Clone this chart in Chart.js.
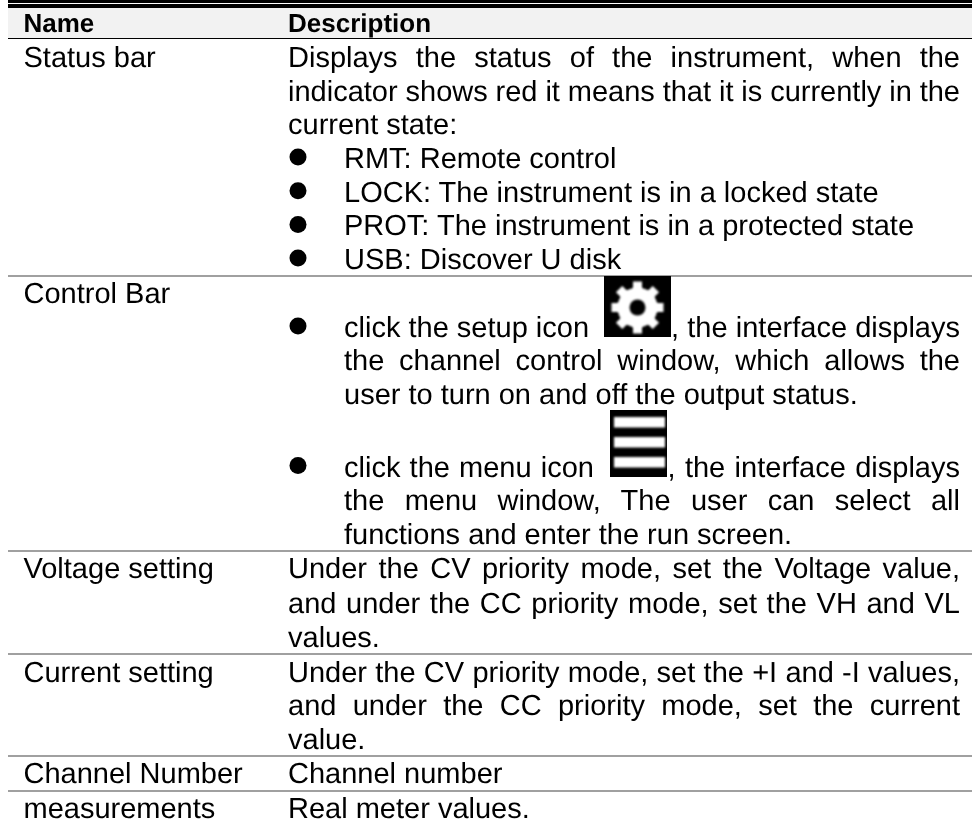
<!DOCTYPE html>
<html>
<head>
<meta charset="utf-8">
<title>Name / Description</title>
<script src="https://cdn.jsdelivr.net/npm/chart.js"></script>
<style>
    html, body { margin: 0; padding: 0; background: #fff; }
    #tableChart { display: block; }
</style>
</head>
<body>
<canvas id="tableChart" width="972" height="823"></canvas>
<script>
const headerLabels = ['Name', 'Description'];
const rowNames = ['Status bar', 'Control Bar', 'Voltage setting', 'Current setting', 'Channel Number', 'measurements'];
const rowNameBaselines = [67, 303, 578, 682, 783, 818];
const statusLines = [
    'Displays the status of the instrument, when the',
    'indicator shows red it means that it is currently in the',
    'current state:'
];
const statusBullets = [
    'RMT: Remote control',
    'LOCK: The instrument is in a locked state',
    'PROT: The instrument is in a protected state',
    'USB: Discover U disk'
];
const setupLines = [
    'the channel control window, which allows the',
    'user to turn on and off the output status.'
];
const menuLines = [
    'the menu window, The user can select all',
    'functions and enter the run screen.'
];
const voltageLines = [
    'Under the CV priority mode, set the Voltage value,',
    'and under the CC priority mode, set the VH and VL',
    'values.'
];
const currentLines = [
    'Under the CV priority mode, set the +I and -I values,',
    'and under the CC priority mode, set the current',
    'value.'
];
const rowRules = [276, 551, 654, 756, 791];

const FONT = '"Liberation Sans", Arial, sans-serif';
const HEADER_SIZE = 26;
const BODY_SIZE = 29;
const LEFT_COL = 23.5;
const RIGHT_COL = 288;
const BULLET_X = 298;
const BULLET_TEXT = 344;
const RIGHT_EDGE = 960;

function textLine(ctx, text, x, y, right) {
    ctx.wordSpacing = '0px';
    if (right) {
        const gaps = text.split(' ').length - 1;
        const extra = (right - x - ctx.measureText(text).width) / gaps;
        ctx.wordSpacing = extra + 'px';
    }
    ctx.fillText(text, x, y);
    ctx.wordSpacing = '0px';
}

function bullet(ctx, y) {
    ctx.beginPath();
    ctx.arc(BULLET_X, y - 11, 8.5, 0, Math.PI * 2);
    ctx.fill();
}

function drawGear(ctx, x, y, w, h) {
    ctx.fillStyle = '#000';
    ctx.fillRect(x, y, w, h);
    const cx = x + w / 2, cy = y + h / 2 + 1;
    ctx.save();
    ctx.filter = 'blur(1.2px)';
    ctx.fillStyle = '#fff';
    for (let i = 0; i < 8; i++) {
        ctx.save();
        ctx.translate(cx, cy);
        ctx.rotate(i * Math.PI / 4);
        ctx.fillRect(-4.5, -26, 9, 10);
        ctx.restore();
    }
    ctx.beginPath();
    ctx.arc(cx, cy, 20, 0, Math.PI * 2);
    ctx.fill();
    ctx.fillStyle = '#000';
    ctx.beginPath();
    ctx.arc(cx, cy, 8, 0, Math.PI * 2);
    ctx.fill();
    ctx.restore();
}

function drawMenu(ctx, x, y, w, h) {
    ctx.fillStyle = '#000';
    ctx.fillRect(x, y, w, h);
    ctx.save();
    ctx.filter = 'blur(1px)';
    ctx.fillStyle = '#fff';
    [7, 27, 47].forEach(function(top) {
        ctx.fillRect(x + 4, y + top, w - 6, 10.5);
    });
    ctx.restore();
}

const tablePlugin = {
    id: 'tablePlugin',
    afterDraw: function(chart) {
        const ctx = chart.ctx;
        ctx.save();
        ctx.textBaseline = 'alphabetic';
        ctx.textRendering = 'geometricPrecision';

        // header band and heavy rules
        ctx.fillStyle = '#f2f2f2';
        ctx.fillRect(8, 8, 964, 30);
        ctx.fillStyle = '#000';
        ctx.fillRect(8, 0, 964, 3);
        ctx.fillRect(8, 4, 964, 4);
        ctx.fillRect(8, 38, 964, 1);
        ctx.fillStyle = '#a0a0a0';
        rowRules.forEach(function(y) {
            ctx.fillRect(8, y - 1, 964, 2);
        });

        ctx.fillStyle = '#000';
        ctx.font = 'bold ' + HEADER_SIZE + 'px ' + FONT;
        ctx.fillText(headerLabels[0], LEFT_COL, 32);
        ctx.fillText(headerLabels[1], RIGHT_COL, 32);

        ctx.font = BODY_SIZE + 'px ' + FONT;
        rowNames.forEach(function(name, i) {
            ctx.fillText(name, LEFT_COL, rowNameBaselines[i]);
        });

        textLine(ctx, statusLines[0], RIGHT_COL, 67, RIGHT_EDGE);
        textLine(ctx, statusLines[1], RIGHT_COL, 101, RIGHT_EDGE);
        textLine(ctx, statusLines[2], RIGHT_COL, 134);
        statusBullets.forEach(function(t, i) {
            const y = 168 + i * 33.7;
            bullet(ctx, y);
            ctx.fillText(t, BULLET_TEXT, y);
        });

        bullet(ctx, 337);
        textLine(ctx, 'click the setup icon', BULLET_TEXT, 337);
        drawGear(ctx, 604, 276, 67, 61);
        ctx.fillStyle = '#000';
        textLine(ctx, ', the interface displays', 671, 337, RIGHT_EDGE);
        textLine(ctx, setupLines[0], BULLET_TEXT, 370, RIGHT_EDGE);
        textLine(ctx, setupLines[1], BULLET_TEXT, 404);

        bullet(ctx, 476.5);
        textLine(ctx, 'click the menu icon', BULLET_TEXT, 476.5, 594);
        drawMenu(ctx, 610, 410, 57, 67);
        ctx.fillStyle = '#000';
        textLine(ctx, ', the interface displays', 667.5, 476.5, RIGHT_EDGE);
        textLine(ctx, menuLines[0], BULLET_TEXT, 510, RIGHT_EDGE);
        textLine(ctx, menuLines[1], BULLET_TEXT, 543.5);

        textLine(ctx, voltageLines[0], RIGHT_COL, 578, RIGHT_EDGE);
        textLine(ctx, voltageLines[1], RIGHT_COL, 612.5, RIGHT_EDGE);
        textLine(ctx, voltageLines[2], RIGHT_COL, 646.5);
        textLine(ctx, currentLines[0], RIGHT_COL, 682, RIGHT_EDGE);
        textLine(ctx, currentLines[1], RIGHT_COL, 715, RIGHT_EDGE);
        textLine(ctx, currentLines[2], RIGHT_COL, 749);
        ctx.fillText('Channel number', RIGHT_COL, 783);
        ctx.fillText('Real meter values.', RIGHT_COL, 818);
        ctx.restore();
    }
};

new Chart(document.getElementById('tableChart').getContext('2d'), {
    type: 'scatter',
    data: { datasets: [] },
    options: {
        responsive: false,
        animation: false,
        layout: { padding: 0 },
        plugins: { legend: { display: false }, tooltip: { enabled: false } },
        scales: { x: { display: false }, y: { display: false } }
    },
    plugins: [tablePlugin]
});
</script>
</body>
</html>
